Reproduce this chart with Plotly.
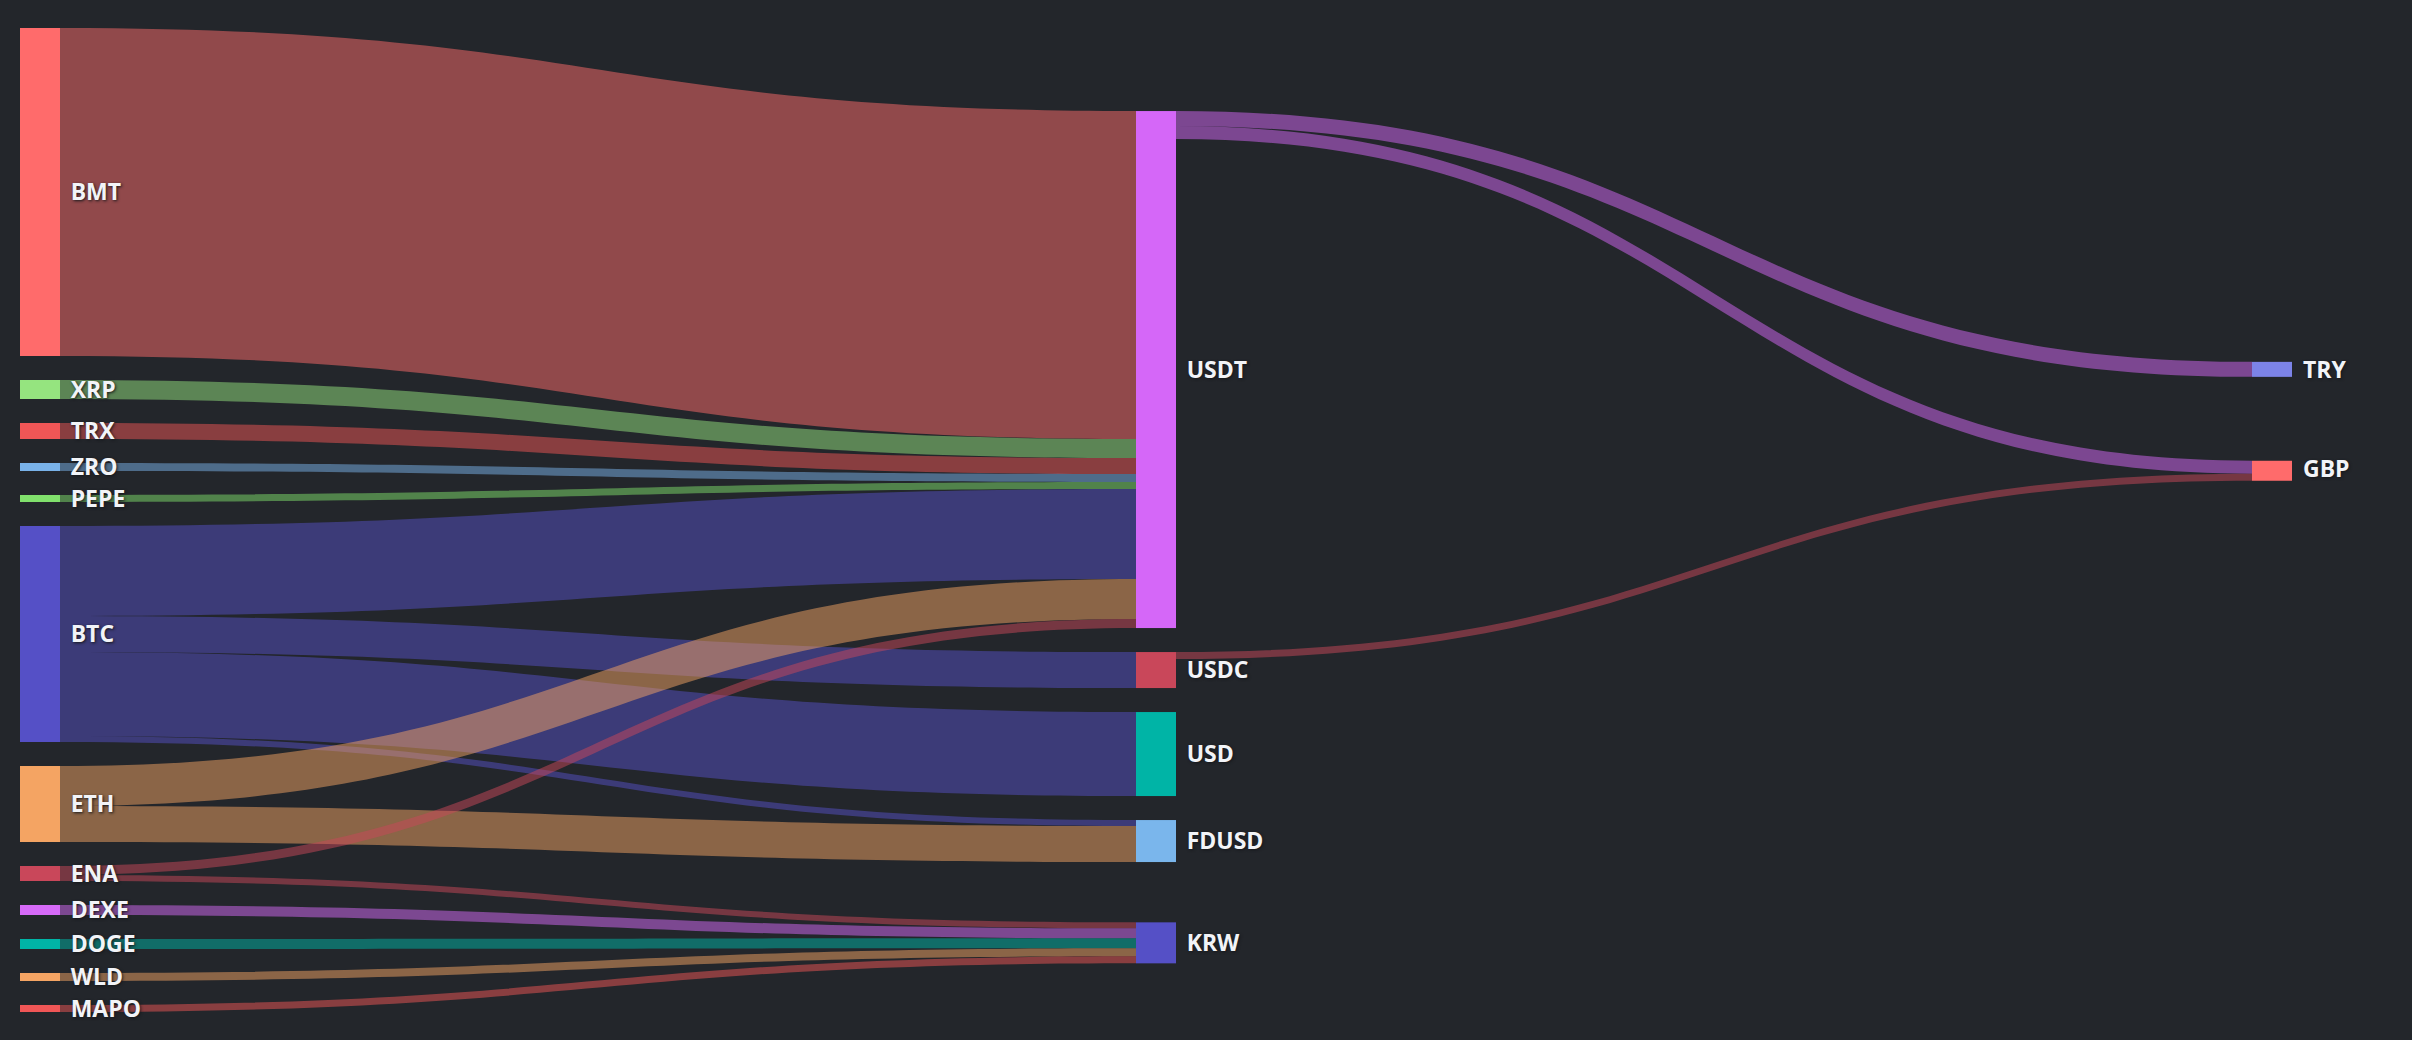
import plotly.graph_objects as go

# Nodes (left column, middle column, right column)
labels = ["BMT", "XRP", "TRX", "ZRO", "PEPE", "BTC", "ETH", "ENA", "DEXE", "DOGE", "WLD", "MAPO",
          "USDT", "USDC", "USD", "FDUSD", "KRW",
          "TRY", "GBP"]
node_colors = ["#ff6b6b", "#95e47f", "#f05656", "#79b2e9", "#80e06c", "#5550c6", "#f4a463", "#c9475a",
               "#d66af8", "#00b4a6", "#f4a463", "#f05656",
               "#d567f8", "#c9475a", "#00b4a6", "#7ab6ec", "#5550c6",
               "#7c83e8", "#ff6b6b"]
right_column = ["TRY", "GBP"]

# Flows
sources = ["BMT", "XRP", "TRX", "ZRO", "PEPE", "BTC", "BTC", "BTC", "BTC", "ETH", "ETH",
           "ENA", "ENA", "DEXE", "DOGE", "WLD", "MAPO",
           "USDT", "USDT", "USDC"]
targets = ["USDT", "USDT", "USDT", "USDT", "USDT", "USDT", "USDC", "USD", "FDUSD", "USDT", "FDUSD",
           "USDT", "KRW", "KRW", "KRW", "KRW", "KRW",
           "TRY", "GBP", "GBP"]
values = [328, 19, 16, 8, 7, 90, 36, 84, 6, 40, 36,
          9, 6, 10, 10, 8, 7,
          15, 13, 7]


def rgba(hex_color, a):
    h = hex_color.lstrip("#")
    return "rgba(%d,%d,%d,%s)" % (int(h[0:2], 16), int(h[2:4], 16), int(h[4:6], 16), a)


idx = {name: i for i, name in enumerate(labels)}
link_colors = [rgba(node_colors[idx[s]], 0.5) for s in sources]

# plotly puts last-column labels left of the node, so those go in annotations instead
node_text = ["" if l in right_column else "\u2004" + l for l in labels]

font = dict(family="Open Sans", size=23, color="#f2f4f8", weight="bold",
            shadow="1px 1px 3px #15171b")

fig = go.Figure(go.Sankey(
    node=dict(label=node_text,
              color=node_colors,
              pad=24,
              thickness=40,
              align="left",
              line=dict(width=0)),
    link=dict(source=[idx[s] for s in sources],
              target=[idx[t] for t in targets],
              value=values,
              color=link_colors),
    textfont=font,
))

# right column label positions (paper coords)
right_y = {"TRY": 0.653, "GBP": 0.553}
for name in right_column:
    fig.add_annotation(x=1, y=right_y[name], xref="paper", yref="paper",
                       xanchor="left", yanchor="middle", xshift=9,
                       text=name, showarrow=False, font=font)

fig.update_layout(paper_bgcolor="#23262b",
                  plot_bgcolor="#23262b",
                  margin=dict(l=20, r=120, t=28, b=28))

# page without the white body margin
post = ("document.body.style.margin='0';"
        "document.body.style.background='#23262b';"
        "Plotly.Plots.resize(document.getElementById('{plot_id}'));")
fig.write_html("out.html", post_script=post, config={"displayModeBar": False})
